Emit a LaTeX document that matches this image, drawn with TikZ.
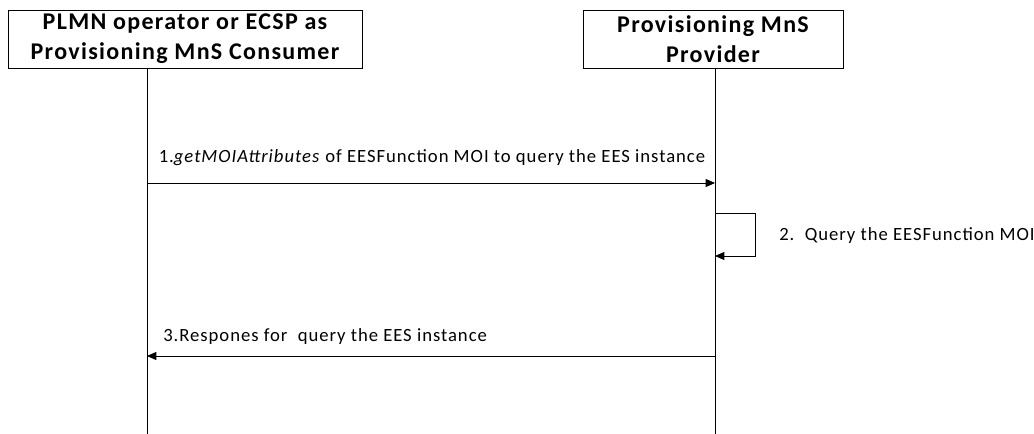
\documentclass[tikz,border=0pt]{standalone}
\usepackage{fontspec}
\setmainfont{Carlito}
\usetikzlibrary{positioning,arrows.meta}

\begin{document}
\begin{tikzpicture}[x=0.75pt,y=-0.75pt,
    actor/.style={draw, line width=0.6pt, minimum height=43.5pt, inner sep=0pt, align=center,
        font=\bfseries\fontsize{18}{22.5}\selectfont\addfontfeature{LetterSpace=5.5}},
    msg/.style={line width=0.6pt, -{Triangle[length=7pt,width=6pt]}},
    msgtext/.style={font=\fontsize{14}{17}\selectfont\addfontfeature{LetterSpace=5.2}, inner sep=0pt}]
    \useasboundingbox (0,0) rectangle (1034,434);

    % Lifeline heads
    \node[actor, minimum width=265.5pt] (cons) at (185,39) {PLMN operator or ECSP as\\Provisioning MnS Consumer};
    \node[actor, minimum width=195pt] (prov) at (713,39) {Provisioning MnS\\Provider};

    % Lifelines
    \coordinate (consEnd) at (147,434);
    \coordinate (provEnd) at (715,434);
    \draw[line width=0.6pt] (cons.south -| consEnd) -- (consEnd);
    \draw[line width=0.6pt] (prov.south -| provEnd) -- (provEnd);

    % 1. request
    \coordinate (c1) at (147,183);
    \coordinate (p1) at (715,183);
    \draw[msg] (c1) -- (p1);
    \node[msgtext, anchor=base] (m1) at (432,163) {1.\textit{getMOIAttributes} of EESFunction MOI to query the EES instance};

    % 2. local query
    \coordinate (p2a) at (715,213);
    \coordinate (p2b) at (715,256);
    \draw[msg] (p2a) -- ++(40,0) |- (p2b);
    \node[msgtext, anchor=west] (m2) at (779,236) {2.\ \ Query the EESFunction MOI};

    % 3. response
    \coordinate (p3) at (715,356);
    \coordinate (c3) at (147,356);
    \draw[msg] (p3) -- (c3);
    \node[msgtext, anchor=base west] (m3) at (163,341) {3.Respones for\ \ query the EES instance};
\end{tikzpicture}
\end{document}
